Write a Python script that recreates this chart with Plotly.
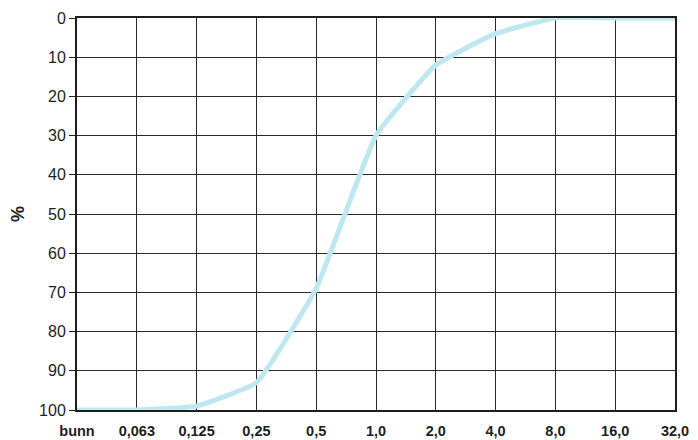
import plotly.graph_objects as go

categories = ["bunn", "0,063", "0,125", "0,25", "0,5", "1,0", "2,0", "4,0", "8,0", "16,0", "32,0"]
passing = [100, 100, 99, 93, 69, 30, 12, 4, 0, 0, 0]
y_ticks = [0, 10, 20, 30, 40, 50, 60, 70, 80, 90, 100]

fig = go.Figure()
fig.add_trace(go.Scatter(
    x=categories, y=passing, mode="lines",
    line=dict(color="#bde8ef", width=5, shape="spline", smoothing=0.35),
    hoverinfo="skip", showlegend=False,
))

fig.update_layout(
    width=698, height=440,
    margin=dict(l=69, r=31, t=10, b=38, autoexpand=False),
    paper_bgcolor="white", plot_bgcolor="white",
    font=dict(family="Liberation Sans, Arial, sans-serif", color="#1e1e1e"),
    xaxis=dict(
        type="category", range=[0, len(categories) - 1],
        showgrid=True, gridcolor="#2a2a2a", gridwidth=1.3,
        showline=True, linecolor="#1e1e1e", linewidth=2, mirror=True,
        ticks="", tickfont=dict(size=14.5), automargin=False,
        ticklabelstandoff=7, zeroline=False,
    ),
    yaxis=dict(
        range=[100, 0], tickvals=y_ticks,
        showgrid=True, gridcolor="#2a2a2a", gridwidth=1.3,
        showline=True, linecolor="#1e1e1e", linewidth=2, mirror=True,
        ticks="outside", ticklen=6, tickcolor="#1e1e1e",
        tickfont=dict(size=16), zeroline=False, automargin=False,
        title=dict(text="<b>%</b>", font=dict(size=18), standoff=16),
    ),
)
fig.update_xaxes(tickprefix="<b>", ticksuffix="</b>")
fig.update_yaxes(tickprefix="<b>", ticksuffix="</b>")

fig.write_html("out.html")
